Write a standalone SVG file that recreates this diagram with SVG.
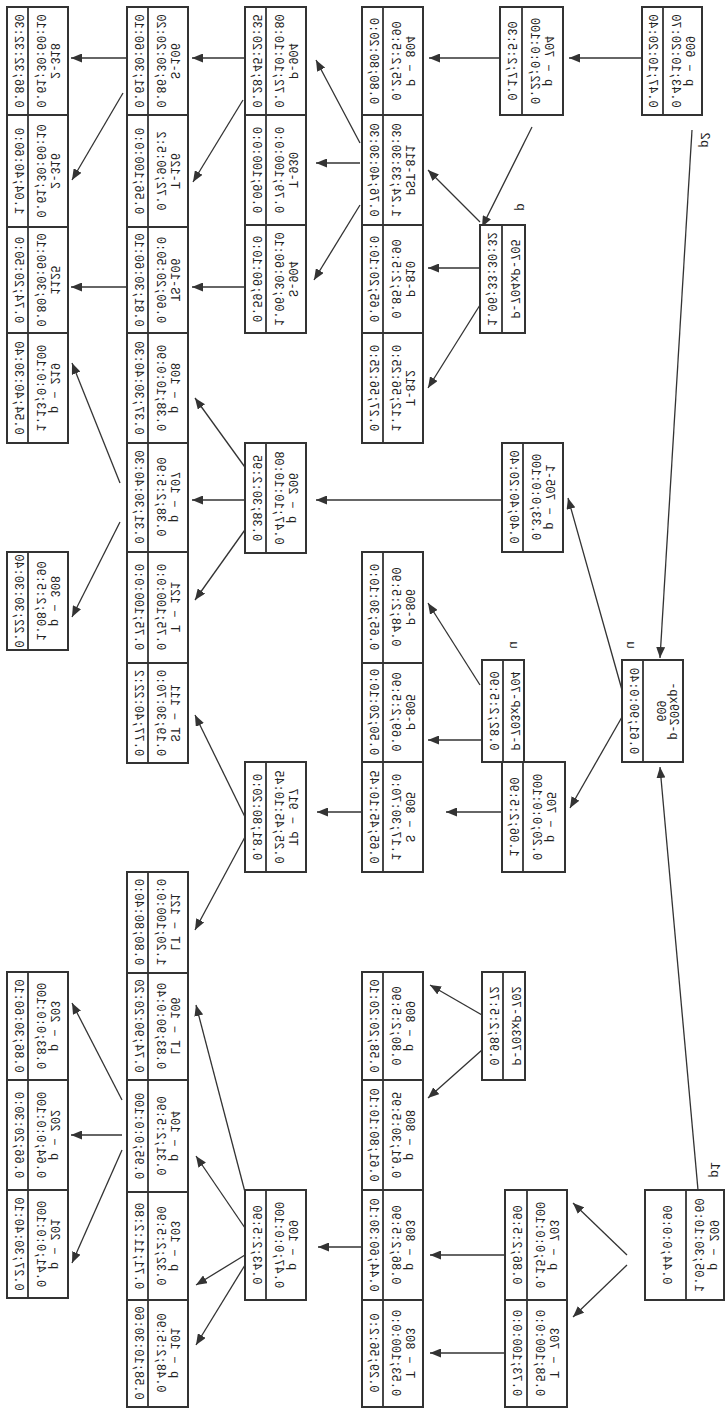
<svg xmlns="http://www.w3.org/2000/svg" width="725" height="1413" viewBox="0 0 725 1413">
<style>
.b{fill:#fff;stroke:#333;stroke-width:2}
.d{stroke:#333;stroke-width:1.8}
text{font-family:"Liberation Mono","DejaVu Sans Mono",monospace;font-size:12px;fill:#222;text-anchor:middle;dominant-baseline:central}
.lb{font-size:13px}
#conn line{stroke:#333;stroke-width:1.3;marker-end:url(#ah)}
#conn line.n{marker-end:none}
</style>
<defs>
<marker id="ah" markerUnits="userSpaceOnUse" markerWidth="11" markerHeight="9" refX="11" refY="4.5" orient="auto"><path d="M0,0 L11,4.5 L0,9 z" fill="#333"/></marker>
</defs>
<rect width="725" height="1413" fill="#fff"/>

<g id="conn">
<line x1="245" y1="58" x2="192" y2="58"/>
<line x1="243" y1="100" x2="193" y2="182"/>
<line x1="245" y1="287" x2="192" y2="287"/>
<line x1="127" y1="58" x2="71" y2="58"/>
<line x1="123" y1="93" x2="72" y2="180"/>
<line x1="127" y1="287" x2="71" y2="287"/>
<line x1="360" y1="143" x2="316" y2="60"/>
<line x1="360" y1="163" x2="316" y2="163"/>
<line x1="360" y1="205" x2="314" y2="280"/>
<line x1="500" y1="58" x2="429" y2="58"/>
<line x1="532" y1="127" x2="482" y2="227"/>
<line x1="480" y1="222" x2="428" y2="170"/>
<line x1="480" y1="268" x2="428" y2="268"/>
<line x1="480" y1="305" x2="428" y2="388"/>
<line x1="642" y1="58" x2="569" y2="58"/>
<line x1="692" y1="130" x2="660" y2="658"/>
<line x1="698" y1="1190" x2="660" y2="767"/>
<line x1="622" y1="690" x2="568" y2="498"/>
<line x1="622" y1="717" x2="570" y2="808"/>
<line x1="502" y1="500" x2="316" y2="500"/>
<line x1="247" y1="470" x2="195" y2="398"/>
<line x1="245" y1="500" x2="192" y2="500"/>
<line x1="247" y1="527" x2="195" y2="600"/>
<line x1="120" y1="483" x2="72" y2="363"/>
<line x1="120" y1="522" x2="72" y2="617"/>
<line x1="480" y1="685" x2="428" y2="603"/>
<line x1="482" y1="740" x2="428" y2="740"/>
<line x1="502" y1="812" x2="446" y2="812"/>
<line x1="362" y1="812" x2="317" y2="812"/>
<line x1="245" y1="817" x2="195" y2="715"/>
<line x1="245" y1="837" x2="195" y2="930"/>
<line x1="482" y1="1015" x2="430" y2="985"/>
<line x1="482" y1="1050" x2="428" y2="1098"/>
<line x1="505" y1="1255" x2="430" y2="1255"/>
<line x1="505" y1="1353" x2="430" y2="1353"/>
<line x1="362" y1="1247" x2="318" y2="1247"/>
<line x1="245" y1="1192" x2="196" y2="1005"/>
<line x1="245" y1="1228" x2="196" y2="1156"/>
<line x1="245" y1="1255" x2="196" y2="1285"/>
<line x1="245" y1="1265" x2="196" y2="1345"/>
<line x1="122" y1="1100" x2="72" y2="1003"/>
<line x1="122" y1="1135" x2="71" y2="1135"/>
<line x1="122" y1="1150" x2="72" y2="1263"/>
<line x1="627" y1="1255" x2="573" y2="1203"/>
<line x1="627" y1="1265" x2="573" y2="1317"/>
</g>

<!-- Column A -->
<g id="A1"><rect class="b" x="7" y="7" width="61" height="108"/><line class="d" x1="28" y1="7" x2="28" y2="115"/>
<text transform="matrix(0,-1,-1,0,18,61)">0.86;32:32:30</text><text transform="matrix(0,-1,-1,0,40,61)">0.61;30:60:10</text><text transform="matrix(0,-1,-1,0,54,61)">2-318</text></g>
<g id="A2"><rect class="b" x="7" y="115" width="61" height="112"/><line class="d" x1="28" y1="115" x2="28" y2="227"/>
<text transform="matrix(0,-1,-1,0,18,171)">1.04;40:60:0</text><text transform="matrix(0,-1,-1,0,40,171)">0.61;30:60:10</text><text transform="matrix(0,-1,-1,0,54,171)">2-316</text></g>
<g id="A3"><rect class="b" x="7" y="227" width="61" height="106"/><line class="d" x1="28" y1="227" x2="28" y2="333"/>
<text transform="matrix(0,-1,-1,0,18,280)">0.74;20:50:0</text><text transform="matrix(0,-1,-1,0,40,280)">0.80;30:60:10</text><text transform="matrix(0,-1,-1,0,54,280)">1125</text></g>
<g id="A4"><rect class="b" x="7" y="333" width="61" height="110"/><line class="d" x1="28" y1="333" x2="28" y2="443"/>
<text transform="matrix(0,-1,-1,0,18,388)">0.54;40:30:40</text><text transform="matrix(0,-1,-1,0,40,388)">1.13;0:0:100</text><text transform="matrix(0,-1,-1,0,54,388)">p − 219</text></g>
<g id="A5"><rect class="b" x="7" y="552" width="61" height="98"/><line class="d" x1="28" y1="552" x2="28" y2="650"/>
<text transform="matrix(0,-1,-1,0,18,601)">0.22;30:30:40</text><text transform="matrix(0,-1,-1,0,40,601)">1.08;2:5:90</text><text transform="matrix(0,-1,-1,0,54,601)">p − 308</text></g>
<g id="A6"><rect class="b" x="7" y="972" width="61" height="108"/><line class="d" x1="28" y1="972" x2="28" y2="1080"/>
<text transform="matrix(0,-1,-1,0,18,1026)">0.86;30:60:10</text><text transform="matrix(0,-1,-1,0,40,1026)">0.83;0:0:100</text><text transform="matrix(0,-1,-1,0,54,1026)">p − 203</text></g>
<g id="A7"><rect class="b" x="7" y="1080" width="61" height="110"/><line class="d" x1="28" y1="1080" x2="28" y2="1190"/>
<text transform="matrix(0,-1,-1,0,18,1135)">0.66;20:30:0</text><text transform="matrix(0,-1,-1,0,40,1135)">0.64;0:0:100</text><text transform="matrix(0,-1,-1,0,54,1135)">p − 202</text></g>
<g id="A8"><rect class="b" x="7" y="1190" width="61" height="108"/><line class="d" x1="28" y1="1190" x2="28" y2="1298"/>
<text transform="matrix(0,-1,-1,0,18,1244)">0.27;30:40:10</text><text transform="matrix(0,-1,-1,0,40,1244)">0.41;0:0:100</text><text transform="matrix(0,-1,-1,0,54,1244)">p − 201</text></g>

<!-- Column B -->
<g id="B1"><rect class="b" x="127" y="7" width="61" height="108"/><line class="d" x1="148" y1="7" x2="148" y2="115"/>
<text transform="matrix(0,-1,-1,0,138,61)">0.61;30:60:10</text><text transform="matrix(0,-1,-1,0,160,61)">0.86;30:20:20</text><text transform="matrix(0,-1,-1,0,174,61)">S-106</text></g>
<g id="B2"><rect class="b" x="127" y="115" width="61" height="112"/><line class="d" x1="148" y1="115" x2="148" y2="227"/>
<text transform="matrix(0,-1,-1,0,138,171)">0.56;100:0:0</text><text transform="matrix(0,-1,-1,0,160,171)">0.72;90:5:2</text><text transform="matrix(0,-1,-1,0,174,171)">T-126</text></g>
<g id="B3"><rect class="b" x="127" y="227" width="61" height="106"/><line class="d" x1="148" y1="227" x2="148" y2="333"/>
<text transform="matrix(0,-1,-1,0,138,280)">0.81;30:60:10</text><text transform="matrix(0,-1,-1,0,160,280)">0.60;20:50:0</text><text transform="matrix(0,-1,-1,0,174,280)">TS-106</text></g>
<g id="B4"><rect class="b" x="127" y="333" width="61" height="110"/><line class="d" x1="148" y1="333" x2="148" y2="443"/>
<text transform="matrix(0,-1,-1,0,138,388)">0.37;30:40:30</text><text transform="matrix(0,-1,-1,0,160,388)">0.38;10:0:90</text><text transform="matrix(0,-1,-1,0,174,388)">p − 108</text></g>
<g id="B5"><rect class="b" x="127" y="443" width="61" height="109"/><line class="d" x1="148" y1="443" x2="148" y2="552"/>
<text transform="matrix(0,-1,-1,0,138,497)">0.31;30:40:30</text><text transform="matrix(0,-1,-1,0,160,497)">0.38;2:5:90</text><text transform="matrix(0,-1,-1,0,174,497)">p − 107</text></g>
<g id="B6"><rect class="b" x="127" y="552" width="61" height="111"/><line class="d" x1="148" y1="552" x2="148" y2="663"/>
<text transform="matrix(0,-1,-1,0,138,607)">0.75;100:0:0</text><text transform="matrix(0,-1,-1,0,160,607)">0.75;100:0:0</text><text transform="matrix(0,-1,-1,0,174,607)">T − 121</text></g>
<g id="B7"><rect class="b" x="127" y="663" width="61" height="100"/><line class="d" x1="148" y1="663" x2="148" y2="763"/>
<text transform="matrix(0,-1,-1,0,138,713)">0.77;40:22:2</text><text transform="matrix(0,-1,-1,0,160,713)">0.19;30:70:0</text><text transform="matrix(0,-1,-1,0,174,713)">ST − 111</text></g>
<g id="B8"><rect class="b" x="127" y="872" width="61" height="101"/><line class="d" x1="148" y1="872" x2="148" y2="973"/>
<text transform="matrix(0,-1,-1,0,138,922)">0.80;80:40:0</text><text transform="matrix(0,-1,-1,0,160,922)">1.20;100:0:0</text><text transform="matrix(0,-1,-1,0,174,922)">LT − 121</text></g>
<g id="B9"><rect class="b" x="127" y="973" width="61" height="107"/><line class="d" x1="148" y1="973" x2="148" y2="1080"/>
<text transform="matrix(0,-1,-1,0,138,1026)">0.74;90:20:20</text><text transform="matrix(0,-1,-1,0,160,1026)">0.83;90:0:40</text><text transform="matrix(0,-1,-1,0,174,1026)">LT − 106</text></g>
<g id="B10"><rect class="b" x="127" y="1080" width="61" height="112"/><line class="d" x1="148" y1="1080" x2="148" y2="1192"/>
<text transform="matrix(0,-1,-1,0,138,1136)">0.95;0:0:100</text><text transform="matrix(0,-1,-1,0,160,1136)">0.31;2:5:90</text><text transform="matrix(0,-1,-1,0,174,1136)">p − 104</text></g>
<g id="B11"><rect class="b" x="127" y="1192" width="61" height="108"/><line class="d" x1="148" y1="1192" x2="148" y2="1300"/>
<text transform="matrix(0,-1,-1,0,138,1246)">0.71;11:2:80</text><text transform="matrix(0,-1,-1,0,160,1246)">0.32;2:5:90</text><text transform="matrix(0,-1,-1,0,174,1246)">p − 103</text></g>
<g id="B12"><rect class="b" x="127" y="1300" width="61" height="107"/><line class="d" x1="148" y1="1300" x2="148" y2="1407"/>
<text transform="matrix(0,-1,-1,0,138,1353)">0.58;10:30:60</text><text transform="matrix(0,-1,-1,0,160,1353)">0.48;2:5:90</text><text transform="matrix(0,-1,-1,0,174,1353)">p − 101</text></g>

<!-- Column C -->
<g id="C1"><rect class="b" x="245" y="7" width="61" height="108"/><line class="d" x1="266" y1="7" x2="266" y2="115"/>
<text transform="matrix(0,-1,-1,0,256,61)">0.28;45:20:35</text><text transform="matrix(0,-1,-1,0,278,61)">0.72;10:10:80</text><text transform="matrix(0,-1,-1,0,292,61)">P-904</text></g>
<g id="C2"><rect class="b" x="245" y="115" width="61" height="110"/><line class="d" x1="266" y1="115" x2="266" y2="225"/>
<text transform="matrix(0,-1,-1,0,256,170)">0.06;100:0:0</text><text transform="matrix(0,-1,-1,0,278,170)">0.79;100:0:0</text><text transform="matrix(0,-1,-1,0,292,170)">T-930</text></g>
<g id="C3"><rect class="b" x="245" y="225" width="61" height="108"/><line class="d" x1="266" y1="225" x2="266" y2="333"/>
<text transform="matrix(0,-1,-1,0,256,279)">0.59;60:10:0</text><text transform="matrix(0,-1,-1,0,278,279)">1.06;30:60:10</text><text transform="matrix(0,-1,-1,0,292,279)">S-904</text></g>
<g id="C4"><rect class="b" x="245" y="443" width="61" height="110"/><line class="d" x1="266" y1="443" x2="266" y2="553"/>
<text transform="matrix(0,-1,-1,0,256,498)">0.38;30:2:95</text><text transform="matrix(0,-1,-1,0,278,498)">0.47;10:10:08</text><text transform="matrix(0,-1,-1,0,292,498)">p − 206</text></g>
<g id="C5"><rect class="b" x="245" y="762" width="61" height="110"/><line class="d" x1="266" y1="762" x2="266" y2="872"/>
<text transform="matrix(0,-1,-1,0,256,817)">0.81;80:20:0</text><text transform="matrix(0,-1,-1,0,278,817)">0.25;45:10:45</text><text transform="matrix(0,-1,-1,0,292,817)">TP − 917</text></g>
<g id="C6"><rect class="b" x="245" y="1190" width="61" height="110"/><line class="d" x1="266" y1="1190" x2="266" y2="1300"/>
<text transform="matrix(0,-1,-1,0,256,1245)">0.43;2:5:90</text><text transform="matrix(0,-1,-1,0,278,1245)">0.47;0:0:100</text><text transform="matrix(0,-1,-1,0,292,1245)">p − 109</text></g>

<!-- Column D -->
<g id="D1"><rect class="b" x="362" y="7" width="61" height="108"/><line class="d" x1="383" y1="7" x2="383" y2="115"/>
<text transform="matrix(0,-1,-1,0,373,61)">0.80;80:20:0</text><text transform="matrix(0,-1,-1,0,395,61)">0.25;2:5:90</text><text transform="matrix(0,-1,-1,0,409,61)">P − 804</text></g>
<g id="D2"><rect class="b" x="362" y="115" width="61" height="110"/><line class="d" x1="383" y1="115" x2="383" y2="225"/>
<text transform="matrix(0,-1,-1,0,373,170)">0.76;40:30:30</text><text transform="matrix(0,-1,-1,0,395,170)">1.24;33:30:30</text><text transform="matrix(0,-1,-1,0,409,170)">PST-811</text></g>
<g id="D3"><rect class="b" x="362" y="225" width="61" height="108"/><line class="d" x1="383" y1="225" x2="383" y2="333"/>
<text transform="matrix(0,-1,-1,0,373,279)">0.65;20:10:0</text><text transform="matrix(0,-1,-1,0,395,279)">0.85;2:5:90</text><text transform="matrix(0,-1,-1,0,409,279)">P-810</text></g>
<g id="D4"><rect class="b" x="362" y="333" width="61" height="110"/><line class="d" x1="383" y1="333" x2="383" y2="443"/>
<text transform="matrix(0,-1,-1,0,373,388)">0.27;56:25:0</text><text transform="matrix(0,-1,-1,0,395,388)">1.12;56:25:0</text><text transform="matrix(0,-1,-1,0,409,388)">T-812</text></g>
<g id="D5"><rect class="b" x="362" y="552" width="61" height="111"/><line class="d" x1="383" y1="552" x2="383" y2="663"/>
<text transform="matrix(0,-1,-1,0,373,607)">0.65;30:10:0</text><text transform="matrix(0,-1,-1,0,395,607)">0.48;2:5:90</text><text transform="matrix(0,-1,-1,0,409,607)">P-806</text></g>
<g id="D6"><rect class="b" x="362" y="663" width="61" height="99"/><line class="d" x1="383" y1="663" x2="383" y2="762"/>
<text transform="matrix(0,-1,-1,0,373,712)">0.50;20:10:0</text><text transform="matrix(0,-1,-1,0,395,712)">0.69;2:5:90</text><text transform="matrix(0,-1,-1,0,409,712)">P-805</text></g>
<g id="D7"><rect class="b" x="362" y="762" width="61" height="110"/><line class="d" x1="383" y1="762" x2="383" y2="872"/>
<text transform="matrix(0,-1,-1,0,373,817)">0.65;45:10:45</text><text transform="matrix(0,-1,-1,0,395,817)">1.17;30:70:0</text><text transform="matrix(0,-1,-1,0,409,817)">S − 805</text></g>
<g id="D8"><rect class="b" x="362" y="972" width="61" height="108"/><line class="d" x1="383" y1="972" x2="383" y2="1080"/>
<text transform="matrix(0,-1,-1,0,373,1026)">0.58;20:20:10</text><text transform="matrix(0,-1,-1,0,395,1026)">0.80;2:5:90</text><text transform="matrix(0,-1,-1,0,409,1026)">p − 809</text></g>
<g id="D9"><rect class="b" x="362" y="1080" width="61" height="110"/><line class="d" x1="383" y1="1080" x2="383" y2="1190"/>
<text transform="matrix(0,-1,-1,0,373,1135)">0.61;80:10:10</text><text transform="matrix(0,-1,-1,0,395,1135)">0.61;30:5:95</text><text transform="matrix(0,-1,-1,0,409,1135)">p − 808</text></g>
<g id="D10"><rect class="b" x="362" y="1190" width="61" height="110"/><line class="d" x1="383" y1="1190" x2="383" y2="1300"/>
<text transform="matrix(0,-1,-1,0,373,1245)">0.44;60:30:10</text><text transform="matrix(0,-1,-1,0,395,1245)">0.86;2:5:90</text><text transform="matrix(0,-1,-1,0,409,1245)">p − 803</text></g>
<g id="D11"><rect class="b" x="362" y="1300" width="61" height="107"/><line class="d" x1="383" y1="1300" x2="383" y2="1407"/>
<text transform="matrix(0,-1,-1,0,373,1353)">0.29;56:2:0</text><text transform="matrix(0,-1,-1,0,395,1353)">0.53;100:0:0</text><text transform="matrix(0,-1,-1,0,409,1353)">T − 803</text></g>

<!-- Column E -->
<g id="p704"><rect class="b" x="500" y="7" width="63" height="108"/><line class="d" x1="522" y1="7" x2="522" y2="115"/>
<text transform="matrix(0,-1,-1,0,511,61)">0.17;2:5:30</text><text transform="matrix(0,-1,-1,0,534,61)">0.22;0:0:100</text><text transform="matrix(0,-1,-1,0,548,61)">p − 704</text></g>
<g id="jp"><rect class="b" x="480" y="225" width="45" height="108"/><line class="d" x1="502" y1="225" x2="502" y2="333"/>
<text transform="matrix(0,-1,-1,0,491,279)">1.06;33:30:32</text><text transform="matrix(0,-1,-1,0,514,279)">P-704xP-705</text></g>
<g id="p7051"><rect class="b" x="502" y="443" width="61" height="109"/><line class="d" x1="523" y1="443" x2="523" y2="552"/>
<text transform="matrix(0,-1,-1,0,513,497)">0.40;40:20:40</text><text transform="matrix(0,-1,-1,0,535,497)">0.33;0:0:100</text><text transform="matrix(0,-1,-1,0,549,497)">p − 705-1</text></g>
<g id="ju1"><rect class="b" x="482" y="660" width="42" height="102"/><line class="d" x1="503" y1="660" x2="503" y2="762"/>
<text transform="matrix(0,-1,-1,0,493,711)">0.82;2:5:90</text><text transform="matrix(0,-1,-1,0,514,711)">P-703xP-704</text></g>
<g id="p705"><rect class="b" x="502" y="762" width="63" height="110"/><line class="d" x1="523" y1="762" x2="523" y2="872"/>
<text transform="matrix(0,-1,-1,0,513,817)">1.06;2:5:90</text><text transform="matrix(0,-1,-1,0,536,817)">0.20;0:0:100</text><text transform="matrix(0,-1,-1,0,550,817)">p − 705</text></g>
<g id="jp2"><rect class="b" x="482" y="972" width="43" height="108"/><line class="d" x1="503" y1="972" x2="503" y2="1080"/>
<text transform="matrix(0,-1,-1,0,493,1026)">0.98;2:5:72</text><text transform="matrix(0,-1,-1,0,515,1026)">P-703xP-702</text></g>
<g id="p703"><rect class="b" x="505" y="1190" width="62" height="110"/><line class="d" x1="527" y1="1190" x2="527" y2="1300"/>
<text transform="matrix(0,-1,-1,0,516,1245)">0.86;2:5:90</text><text transform="matrix(0,-1,-1,0,539,1245)">0.15;0:0:100</text><text transform="matrix(0,-1,-1,0,553,1245)">p − 703</text></g>
<g id="T703"><rect class="b" x="505" y="1300" width="62" height="107"/><line class="d" x1="527" y1="1300" x2="527" y2="1407"/>
<text transform="matrix(0,-1,-1,0,516,1353)">0.73;100:0:0</text><text transform="matrix(0,-1,-1,0,539,1353)">0.58;100:0:0</text><text transform="matrix(0,-1,-1,0,553,1353)">T − 703</text></g>

<!-- Column F -->
<g id="p609"><rect class="b" x="642" y="7" width="60" height="108"/><line class="d" x1="663" y1="7" x2="663" y2="115"/>
<text transform="matrix(0,-1,-1,0,652,61)">0.47;10:20:40</text><text transform="matrix(0,-1,-1,0,675,61)">0.43;10:20:70</text><text transform="matrix(0,-1,-1,0,689,61)">p − 609</text></g>
<g id="ur"><rect class="b" x="622" y="660" width="61" height="102"/><line class="d" x1="643" y1="660" x2="643" y2="762"/>
<text transform="matrix(0,-1,-1,0,633,711)">0.61;90:0:40</text><text transform="matrix(0,-1,-1,0,660,711)">609</text><text transform="matrix(0,-1,-1,0,673,711)">p-209xp-</text></g>
<g id="p209"><rect class="b" x="645" y="1190" width="79" height="110"/><line class="d" x1="686" y1="1190" x2="686" y2="1300"/>
<text transform="matrix(0,-1,-1,0,666,1245)">0.44;0:0:90</text><text transform="matrix(0,-1,-1,0,698,1245)">1.05;30:10:60</text><text transform="matrix(0,-1,-1,0,713,1245)">p − 209</text></g>

<g id="tags">
<text class="lb" transform="matrix(0,-1,-1,0,704,140)">p2</text>
<text class="lb" transform="matrix(0,-1,-1,0,714,1170)">p1</text>
<text class="lb" transform="matrix(0,-1,-1,0,520,207)">p</text>
<text class="lb" transform="matrix(0,-1,-1,0,513,645)">u</text>
<text class="lb" transform="matrix(0,-1,-1,0,630,645)">u</text>
</g>
</svg>
